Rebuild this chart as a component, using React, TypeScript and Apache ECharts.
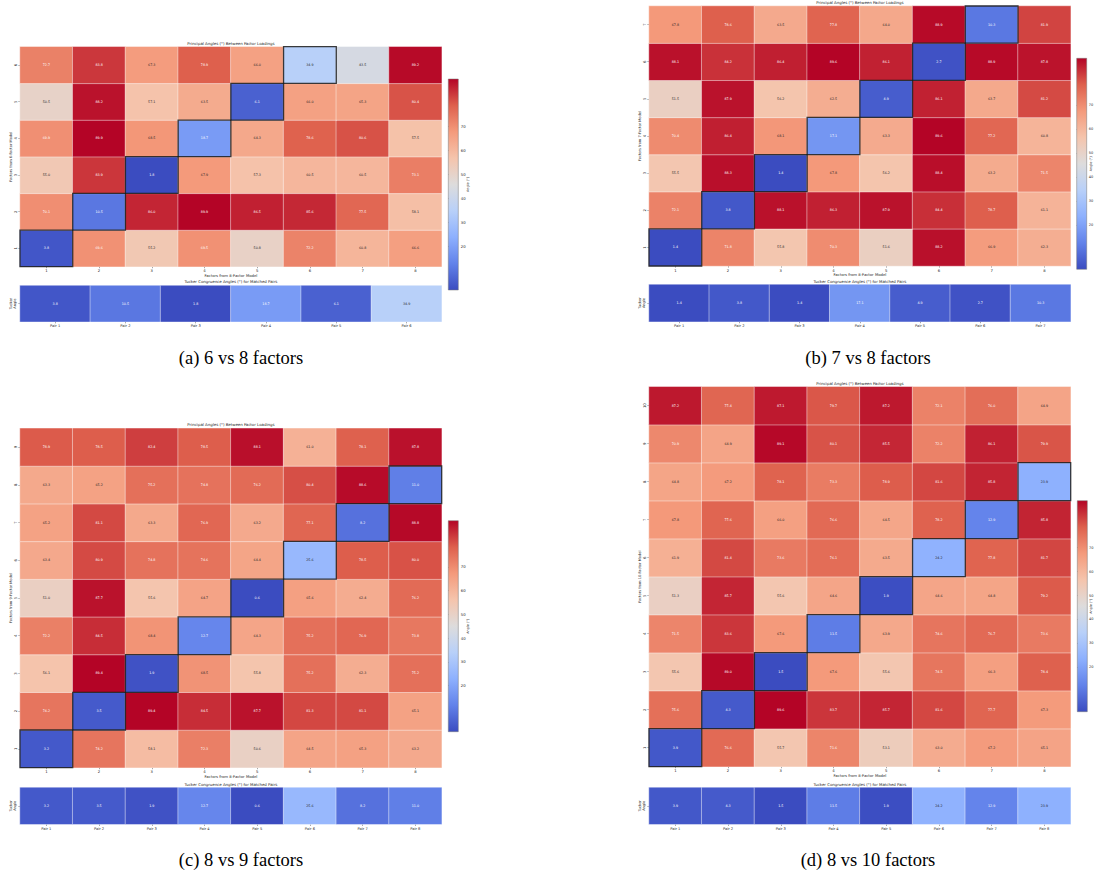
import React, { useEffect, useRef } from "react";
import * as echarts from "echarts";

// ---------- DATA ----------
const factorsX = ["1", "2", "3", "4", "5", "6", "7", "8"];
const cbarTicks = [10, 20, 30, 40, 50, 60, 70, 80];

// rows listed from factor 1 (bottom row) upwards
const anglesA = [
  [3.8, 69.6, 55.2, 69.5, 50.8, 72.2, 60.8, 66.6],
  [70.1, 10.5, 86.0, 89.9, 86.5, 85.6, 77.5, 58.1],
  [55.0, 83.9, 1.8, 67.9, 57.3, 60.5, 60.5, 73.1],
  [69.9, 89.9, 68.5, 18.7, 64.3, 78.6, 80.6, 57.5],
  [50.5, 88.2, 57.1, 63.5, 6.1, 66.0, 65.3, 80.4],
  [72.7, 83.8, 67.3, 78.9, 66.0, 34.9, 43.5, 89.2],
];
const tuckerA = [3.8, 10.5, 1.8, 18.7, 6.1, 34.9];

const anglesB = [
  [1.4, 71.8, 55.8, 70.3, 51.6, 88.2, 66.9, 62.3],
  [72.1, 3.8, 88.1, 86.3, 87.9, 84.4, 78.7, 61.1],
  [55.5, 88.3, 1.4, 67.8, 56.2, 88.4, 63.2, 71.5],
  [70.4, 86.4, 68.1, 17.1, 63.3, 89.6, 77.2, 60.8],
  [51.5, 87.9, 56.2, 62.5, 4.9, 86.1, 63.7, 81.2],
  [88.1, 84.2, 86.4, 89.6, 86.1, 2.7, 88.9, 87.8],
  [67.8, 78.6, 63.5, 77.8, 64.0, 88.9, 10.3, 81.9],
];
const tuckerB = [1.4, 3.8, 1.4, 17.1, 4.9, 2.7, 10.3];

const anglesC = [
  [3.2, 74.2, 58.1, 72.3, 50.6, 64.5, 65.3, 63.2],
  [74.2, 3.5, 89.4, 84.5, 87.7, 81.3, 81.1, 65.1],
  [56.1, 89.4, 1.9, 68.5, 55.8, 75.2, 62.3, 75.2],
  [72.2, 84.5, 68.4, 12.7, 64.3, 75.2, 76.9, 73.8],
  [51.0, 87.7, 55.6, 64.7, 0.6, 65.6, 62.4, 76.2],
  [63.4, 80.9, 74.8, 74.6, 64.4, 25.6, 78.5, 80.0],
  [65.2, 81.1, 63.3, 76.9, 63.2, 77.1, 8.2, 88.8],
  [63.3, 65.2, 75.2, 74.8, 76.2, 80.4, 88.6, 11.0],
  [78.9, 78.5, 82.4, 78.5, 88.1, 61.0, 78.1, 87.8],
];
const tuckerC = [3.2, 3.5, 1.9, 12.7, 0.6, 25.6, 8.2, 11.0];

const anglesD = [
  [3.9, 76.6, 55.7, 71.6, 53.1, 63.0, 67.2, 65.1],
  [75.6, 4.3, 89.6, 83.7, 85.7, 81.6, 77.7, 67.3],
  [55.6, 89.0, 1.5, 67.6, 55.6, 74.5, 66.3, 78.4],
  [71.5, 83.6, 67.6, 11.5, 63.9, 74.6, 76.7, 73.6],
  [51.3, 85.7, 55.6, 64.6, 1.9, 64.6, 64.8, 79.2],
  [61.9, 81.4, 73.6, 76.1, 63.5, 24.2, 77.8, 81.7],
  [67.8, 77.6, 66.0, 76.6, 64.5, 78.2, 12.9, 85.8],
  [64.8, 67.2, 78.1, 73.3, 78.9, 81.6, 85.8, 23.9],
  [70.9, 64.9, 89.1, 80.1, 85.5, 72.2, 86.1, 79.9],
  [87.2, 77.4, 87.1, 79.7, 87.2, 72.1, 76.0, 64.9],
];
const tuckerD = [3.9, 4.3, 1.5, 11.5, 1.9, 24.2, 12.9, 23.9];

const yNames = [
  "Factors from 6-Factor Model",
  "Factors from 7-Factor Model",
  "Factors from 9-Factor Model",
  "Factors from 10-Factor Model",
];
const captions = ["(a) 6 vs 8 factors", "(b) 7 vs 8 factors", "(c) 8 vs 9 factors", "(d) 8 vs 10 factors"];

// ---------- STYLE / LAYOUT ----------
const COOLWARM = ["#3b4cc0", "#6282ea", "#8db0fe", "#b8d0f9", "#dddcdc", "#f5c4ac", "#f49a7b", "#de604d", "#b40426"];
const FONT = "DejaVu Sans";
const TXT = "#262626";

const layouts = [
  {
    heat: { left: 20, top: 46.7, width: 421.7, height: 220 },
    strip: { left: 20, top: 285.5, width: 421.7, height: 36.3 },
    cbar: { left: 448.3, top: 79, width: 10, height: 211 },
    cbarGap: 8, cbarMargin: 2.5, cbarFont: 3.8,
    titleY: 43.3, stripTitleY: 281.7, capX: 241, capY: 358,
  },
  {
    heat: { left: 649, top: 6, width: 421.7, height: 260 },
    strip: { left: 649, top: 284.4, width: 421.7, height: 37.3 },
    cbar: { left: 1076.7, top: 58.3, width: 10, height: 211 },
    cbarGap: 2.5, cbarMargin: 2, cbarFont: 3.5,
    titleY: 2.7, stripTitleY: 281, capX: 868, capY: 358,
  },
  {
    heat: { left: 20, top: 428.3, width: 421.7, height: 339.4 },
    strip: { left: 20, top: 787.4, width: 421.7, height: 36.9 },
    cbar: { left: 448.3, top: 520.7, width: 10, height: 211 },
    cbarGap: 8, cbarMargin: 2.5, cbarFont: 3.8,
    titleY: 424.7, stripTitleY: 784, capX: 241, capY: 860,
  },
  {
    heat: { left: 649, top: 386.7, width: 421.7, height: 380 },
    strip: { left: 649, top: 787.4, width: 421.7, height: 36.9 },
    cbar: { left: 1077.3, top: 500.7, width: 10, height: 211 },
    cbarGap: 2, cbarMargin: 1.8, cbarFont: 3.5,
    titleY: 383.3, stripTitleY: 784, capX: 868, capY: 860,
  },
];

function hexToRgb(h: string) {
  return [parseInt(h.slice(1, 3), 16), parseInt(h.slice(3, 5), 16), parseInt(h.slice(5, 7), 16)];
}
function coolwarm(t: number) {
  const tt = Math.max(0, Math.min(1, t)) * (COOLWARM.length - 1);
  const i = Math.min(Math.floor(tt), COOLWARM.length - 2);
  const f = tt - i;
  const a = hexToRgb(COOLWARM[i]);
  const b = hexToRgb(COOLWARM[i + 1]);
  return a.map((v, k) => v + (b[k] - v) * f);
}
function textColor(v: number, min: number, max: number) {
  const rgb = coolwarm((v - min) / (max - min)).map((c) => {
    const s = c / 255;
    return s <= 0.03928 ? s / 12.92 : Math.pow((s + 0.055) / 1.055, 2.4);
  });
  const lum = 0.2126 * rgb[0] + 0.7152 * rgb[1] + 0.0722 * rgb[2];
  return lum > 0.408 ? TXT : "#ffffff";
}

function buildOption() {
  const all = [
    { rows: anglesA, tucker: tuckerA },
    { rows: anglesB, tucker: tuckerB },
    { rows: anglesC, tucker: tuckerC },
    { rows: anglesD, tucker: tuckerD },
  ];
  const grid: any[] = [];
  const xAxis: any[] = [];
  const yAxis: any[] = [];
  const series: any[] = [];
  const visualMap: any[] = [];
  const graphic: any[] = [];

  const tickStyle = { show: true, length: 1.5, lineStyle: { color: TXT, width: 0.5 }, alignWithLabel: true };
  const lblStyle = { fontSize: 3.8, color: TXT, fontFamily: FONT };

  all.forEach((p, pi) => {
    const L = layouts[pi];
    const flat = p.rows.flat();
    const vmin = Math.min(...flat);
    const vmax = Math.max(...flat);
    const g = pi * 3;
    grid.push({ ...L.heat, outerBoundsMode: "none", containLabel: false });
    grid.push({ ...L.strip, outerBoundsMode: "none", containLabel: false });
    grid.push({ ...L.cbar, outerBoundsMode: "none", containLabel: false });

    // heatmap axes
    xAxis.push({
      type: "category", gridIndex: g, data: factorsX, position: "bottom",
      axisLine: { show: false }, axisTick: tickStyle, splitLine: { show: false },
      axisLabel: { ...lblStyle, margin: 2.2, interval: 0 },
      name: "Factors from 8-Factor Model", nameLocation: "middle", nameGap: 6.8, nameMoveOverlap: false,
      nameTextStyle: { ...lblStyle },
    });
    yAxis.push({
      type: "category", gridIndex: g, data: p.rows.map((_, i) => String(i + 1)),
      axisLine: { show: false }, axisTick: tickStyle, splitLine: { show: false },
      axisLabel: { ...lblStyle, margin: 2.2, rotate: 90, interval: 0 },
      name: yNames[pi], nameLocation: "middle", nameGap: 6.8, nameRotate: 90, nameMoveOverlap: false,
      nameTextStyle: { ...lblStyle, fontSize: 3.6 },
    });
    // strip axes
    xAxis.push({
      type: "category", gridIndex: g + 1, data: p.tucker.map((_, i) => "Pair " + (i + 1)),
      axisLine: { show: false }, axisTick: tickStyle, splitLine: { show: false },
      axisLabel: { ...lblStyle, fontSize: 3.6, margin: 2.2, interval: 0 },
    });
    yAxis.push({
      type: "category", gridIndex: g + 1, data: [""],
      axisLine: { show: false }, axisTick: tickStyle, splitLine: { show: false },
      axisLabel: { show: false },
      name: "Tucker\nAngle", nameLocation: "middle", nameGap: 3.2, nameRotate: 90, nameMoveOverlap: false,
      nameTextStyle: { ...lblStyle, fontSize: 3.5, lineHeight: 4 },
    });
    // colorbar axes
    xAxis.push({ type: "value", gridIndex: g + 2, show: false, min: 0, max: 1 });
    yAxis.push({
      type: "value", gridIndex: g + 2, position: "right", min: vmin, max: vmax,
      axisLine: { show: false }, splitLine: { show: false },
      axisTick: { show: true, length: 1.5, lineStyle: { color: TXT, width: 0.5 }, customValues: cbarTicks },
      axisLabel: { ...lblStyle, fontSize: L.cbarFont, margin: L.cbarMargin, customValues: cbarTicks, showMinLabel: false, showMaxLabel: false },
      name: "Angle (°)", nameLocation: "middle", nameGap: L.cbarGap, nameRotate: 90, nameMoveOverlap: false,
      nameTextStyle: { ...lblStyle, fontSize: 3.4, lineHeight: 3.6 },
    });

    const s = series.length;
    const labelBase = {
      show: true, fontSize: 3.3, fontFamily: FONT,
      formatter: (q: any) => Number(q.value[2]).toFixed(1),
    };
    series.push({
      type: "heatmap", xAxisIndex: g, yAxisIndex: g,
      data: p.rows.flatMap((row, r) =>
        row.map((v, c) => ({ value: [c, r, v], label: { color: textColor(v, vmin, vmax) } }))
      ),
      label: labelBase,
      itemStyle: { borderColor: "rgba(255,255,255,0.55)", borderWidth: 0.8 },
      emphasis: { disabled: true },
    });
    // matched-pair outlines
    series.push({
      type: "custom", xAxisIndex: g, yAxisIndex: g, z: 5,
      data: p.tucker.map((v, i) => [i, i, v]),
      encode: { x: 0, y: 1 },
      silent: true,
      renderItem: (_params: any, api: any) => {
        const c = api.coord([api.value(0), api.value(1)]);
        const sz = api.size([1, 1]);
        return {
          type: "rect",
          shape: { x: c[0] - sz[0] / 2, y: c[1] - sz[1] / 2, width: sz[0], height: sz[1] },
          style: { fill: "none", stroke: "rgba(25,25,25,0.85)", lineWidth: 1.3 },
        };
      },
    });
    series.push({
      type: "heatmap", xAxisIndex: g + 1, yAxisIndex: g + 1,
      data: p.tucker.map((v, i) => ({ value: [i, 0, v], label: { color: textColor(v, vmin, vmax) } })),
      label: labelBase,
      itemStyle: { borderColor: "rgba(255,255,255,0.55)", borderWidth: 0.8 },
      emphasis: { disabled: true },
    });
    visualMap.push({
      type: "continuous", show: false, seriesIndex: [s, s + 2], dimension: 2,
      min: vmin, max: vmax, inRange: { color: COOLWARM },
    });

    // colorbar gradient
    graphic.push({
      type: "rect", z: 1,
      shape: { x: L.cbar.left, y: L.cbar.top, width: L.cbar.width, height: L.cbar.height },
      style: {
        fill: new echarts.graphic.LinearGradient(0, 1, 0, 0,
          COOLWARM.map((c, i) => ({ offset: i / (COOLWARM.length - 1), color: c }))),
        stroke: "#777", lineWidth: 0.5,
      },
    });
    const cx = L.heat.left + L.heat.width / 2;
    graphic.push({
      type: "text", x: cx, y: L.titleY,
      style: { text: "Principal Angles (°) Between Factor Loadings", fontSize: 3.9, fontFamily: FONT, fill: TXT, textAlign: "center", textVerticalAlign: "middle" },
    });
    graphic.push({
      type: "text", x: cx, y: L.stripTitleY,
      style: { text: "Tucker Congruence Angles (°) for Matched Pairs", fontSize: 3.9, fontFamily: FONT, fill: TXT, textAlign: "center", textVerticalAlign: "middle" },
    });
    graphic.push({
      type: "text", x: L.capX, y: L.capY,
      style: { text: captions[pi], fontSize: 18.5, fontFamily: "Liberation Serif", fill: "#000", textAlign: "center", textVerticalAlign: "middle" },
    });
  });

  return {
    animation: false,
    backgroundColor: "#ffffff",
    textStyle: { fontFamily: FONT },
    grid, xAxis, yAxis, series, visualMap, graphic,
  };
}

export default function App() {
  const ref = useRef<HTMLDivElement>(null);
  useEffect(() => {
    const chart = echarts.init(ref.current!, undefined, { renderer: "svg" });
    chart.setOption(buildOption() as any);
    return () => chart.dispose();
  }, []);
  return (
    <div
      ref={ref}
      style={{ position: "absolute", left: 0, top: 0, width: 1094, height: 878, background: "#fff" }}
    />
  );
}
